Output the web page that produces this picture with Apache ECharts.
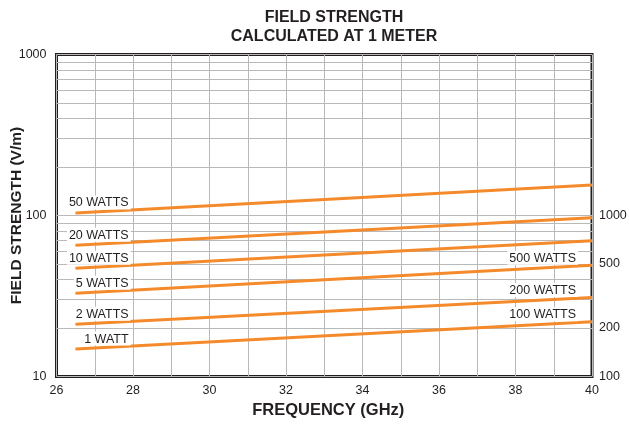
<!DOCTYPE html>
<html>
<head>
<meta charset="utf-8">
<script src="https://cdn.jsdelivr.net/npm/echarts@6/dist/echarts.min.js"></script>
<style>html,body{margin:0;padding:0;background:#fff;}#c{width:629px;height:424px;}</style>
</head>
<body>
<div id="c"></div>
<script>
// Data
const freqs = [26.5, 40];                       // GHz, start & end of each line
const seriesNames = ['50 WATTS', '20 WATTS', '10 WATTS', '5 WATTS', '2 WATTS', '1 WATT'];
const w50 = [103.6, 154.6];
const w20 = [65.3, 96.9];
const w10 = [47.0, 69.7];
const w5  = [32.9, 49.1];
const w2  = [21.1, 31.0];
const w1  = [14.8, 21.9];
const seriesValues = [w50, w20, w10, w5, w2, w1];
// right-end labels (attached to the 5 W, 2 W, 1 W lines)
const rightLabels = {'5 WATTS': '500 WATTS', '2 WATTS': '200 WATTS', '1 WATT': '100 WATTS'};
const xTicks = [26, 28, 30, 32, 34, 36, 38, 40];
const leftTicks = [10, 100, 1000];
const rightTicks = [100, 200, 500, 1000];
const minorGrid = [20, 30, 40, 50, 60, 70, 80, 90, 200, 300, 400, 500, 600, 700, 800, 900];

const FONT = "'Liberation Sans', Arial, Helvetica, sans-serif";
const ORANGE = '#f58a2a';
const INK = '#231f20';
const GRID = '#b9b9b9';

const chart = echarts.init(document.getElementById('c'), null, {renderer: 'canvas'});

const lineSeries = seriesNames.map((name, i) => {
  const vals = seriesValues[i];
  const data = freqs.map((f, j) => ({value: [f, vals[j]]}));
  data[0].label = {
    show: true, formatter: name, position: 'top', distance: 3,
    align: 'right', offset: [55, 0],
    color: INK, fontFamily: FONT, fontSize: 12.5,
    backgroundColor: '#fff', padding: [1, 2, 0, 2]
  };
  if (rightLabels[name]) {
    data[data.length - 1].label = {
      show: true, formatter: rightLabels[name], position: 'top', distance: 0,
      align: 'right', offset: [-14, 0],
      color: INK, fontFamily: FONT, fontSize: 12.5,
      backgroundColor: '#fff', padding: [1, 2, 0, 2]
    };
  }
  return {
    name, type: 'line', data, z: 3,
    symbol: 'circle', symbolSize: 1, showSymbol: true,
    itemStyle: {color: ORANGE},
    lineStyle: {color: ORANGE, width: 3},
    animation: false, silent: true
  };
});

const option = {
  animation: false,
  textStyle: {fontFamily: FONT},
  title: {
    text: 'FIELD STRENGTH\nCALCULATED AT 1 METER',
    left: 329, top: 3, textAlign: 'center',
    textStyle: {fontFamily: FONT, fontSize: 16, fontWeight: 'bold', color: INK, lineHeight: 19}
  },
  grid: {left: 56.5, right: 37, top: 54.5, bottom: 47.5, show: true,
         containLabel: false, outerBoundsMode: 'none',
         borderColor: INK, borderWidth: 3, backgroundColor: 'transparent'},
  xAxis: {
    type: 'value', min: 26, max: 40, interval: 1,
    name: 'FREQUENCY (GHz)', nameLocation: 'middle', nameGap: 25, nameMoveOverlap: false,
    nameTextStyle: {fontFamily: FONT, fontSize: 16.5, fontWeight: 'bold', color: INK, padding: [0, 0, 0, 8]},
    axisLine: {show: false}, axisTick: {show: false},
    axisLabel: {color: INK, fontSize: 12.5, margin: 8, fontFamily: FONT,
                formatter: v => xTicks.includes(v) ? String(v) : ''},
    splitLine: {show: true, lineStyle: {color: GRID, width: 1}}
  },
  yAxis: [{
    type: 'log', logBase: 10, min: 10, max: 1000,
    name: 'FIELD STRENGTH (V/m)', nameLocation: 'middle', nameGap: 32, nameMoveOverlap: false,
    nameTextStyle: {fontFamily: FONT, fontSize: 15.5, fontWeight: 'bold', color: INK},
    axisLine: {show: false}, axisTick: {show: false},
    axisLabel: {color: INK, fontSize: 12.5, margin: 10, fontFamily: FONT,
                formatter: v => leftTicks.includes(Math.round(v)) ? String(Math.round(v)) : ''},
    splitLine: {show: true, lineStyle: {color: GRID, width: 1}}
  }, {
    type: 'log', logBase: 10, min: 100, max: 10000, position: 'right',
    axisLine: {show: false}, axisTick: {show: false},
    axisLabel: {color: INK, fontSize: 12.5, margin: 7, fontFamily: FONT,
                customValues: rightTicks,
                formatter: v => rightTicks.includes(Math.round(v)) ? String(Math.round(v)) : ''},
    splitLine: {show: false}
  }],
  series: [{
    type: 'line', data: [], z: 1, silent: true,
    markLine: {
      z: 1, silent: true, symbol: 'none', label: {show: false}, animation: false,
      lineStyle: {color: GRID, width: 1, type: 'solid'},
      data: minorGrid.map(v => ({yAxis: v}))
    }
  }].concat(lineSeries)
};
chart.setOption(option);
</script>
</body>
</html>
